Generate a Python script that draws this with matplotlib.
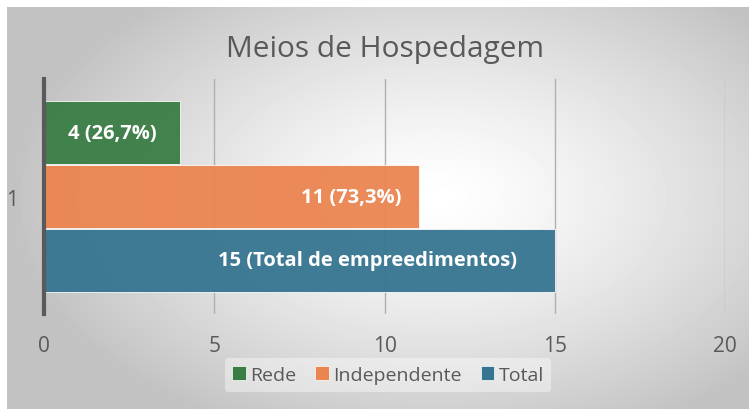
import numpy as np
import matplotlib
matplotlib.use("Agg")
import matplotlib.pyplot as plt
from matplotlib.patches import Patch

# data
series = ["Rede", "Independente", "Total"]
values = [4, 11, 15]
labels = ["4 (26,7%)", "11 (73,3%)", "15 (Total de empreedimentos)"]
colors = ["#3a7d44", "#eb8550", "#367591"]
category = "1"
xticks = [0, 5, 10, 15, 20]

W, H = 749, 410
plt.rcParams["font.family"] = ["Open Sans", "DejaVu Sans"]
fig = plt.figure(figsize=(W / 100, H / 100), dpi=100)
fig.patch.set_facecolor("white")

# radial gradient background of chart area
bg = fig.add_axes([7 / W, 0, 1 - 7 / W, 1 - 8 / H], zorder=-10)
yy, xx = np.mgrid[0:402, 0:742]
d = np.sqrt(((xx - 430) / 430.0) ** 2 + ((yy - 190) / 260.0) ** 2)
shade = 1 - 0.24 * np.clip(d, 0, 1) ** 1.3
bg.imshow(shade, cmap="gray", vmin=0, vmax=1, aspect="auto", interpolation="bilinear")
bg.axis("off")

ax = fig.add_axes([44 / W, (H - 315) / H, (725 - 44) / W, (315 - 80) / H])
ax.patch.set_alpha(0)

h = 0.268
offsets = [-h - 0.004, 0, h + 0.004]
for i, (name, v, c) in enumerate(zip(series, values, colors)):
    ax.barh(offsets[i], v, height=h, color=c, alpha=0.95, edgecolor="white",
            linewidth=0.6, zorder=3, label=name)

# data labels
lab_kw = dict(va="center", color="white", fontsize=14.5, fontweight="bold", zorder=4)
ax.text(values[0] / 2, offsets[0], labels[0], ha="center", **lab_kw)
ax.text(values[1] - 0.5, offsets[1], labels[1], ha="right", **lab_kw)
ax.text(values[2] - 1.1, offsets[2], labels[2], ha="right", **lab_kw)

ax.set_xlim(0, 20)
ax.set_ylim(0.5, -0.5)
ax.set_xticks(xticks)
ax.set_xticklabels([str(t) for t in xticks])
ax.set_yticks([0])
ax.set_yticklabels([category])
ax.tick_params(axis="x", length=0, pad=15, labelsize=15, labelcolor="#595959")
ax.tick_params(axis="y", length=0, pad=19, labelsize=15, labelcolor="#595959")
ax.grid(axis="x", color="#b0b0b0", linewidth=1, zorder=0)
for s in ["top", "right", "bottom"]:
    ax.spines[s].set_visible(False)
ax.spines["left"].set_color("#5a5a5a")
ax.spines["left"].set_linewidth(3)
ax.spines["left"].set_zorder(5)

fig.text(385 / W, 1 - 50 / H, "Meios de Hospedagem", ha="center", va="center",
         fontsize=21.5, color="#595959")

handles = [Patch(facecolor=c, edgecolor="white", linewidth=0.5) for c in colors]
leg = fig.legend(handles, series, loc="center", bbox_to_anchor=(388 / W, 1 - 376 / H),
                 ncol=3, frameon=True, fontsize=14, handlelength=0.7, handleheight=0.7,
                 handletextpad=0.2, columnspacing=1.0, borderpad=0.4)
leg.get_frame().set_facecolor("white")
leg.get_frame().set_alpha(0.4)
leg.get_frame().set_edgecolor("none")
for t in leg.get_texts():
    t.set_color("#595959")

fig.savefig("out.png", dpi=100)
